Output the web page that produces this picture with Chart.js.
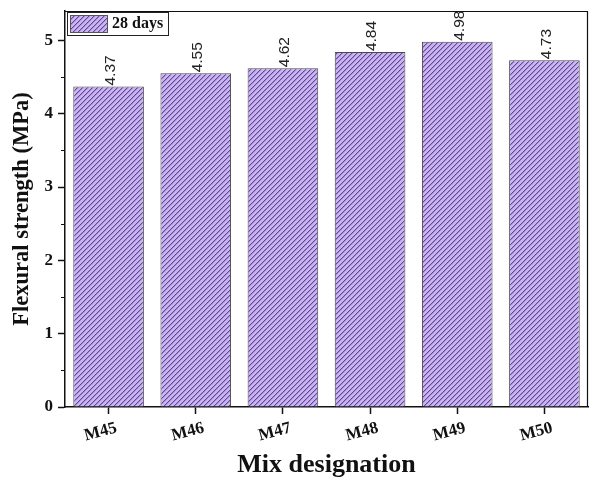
<!DOCTYPE html>
<html>
<head>
<meta charset="utf-8">
<script src="https://cdn.jsdelivr.net/npm/chart.js@4.4.0/dist/chart.umd.min.js"></script>
<style>
  html, body { margin: 0; padding: 0; background: #fff; }
  #wrap { width: 592px; height: 483px; }
</style>
</head>
<body>
<div id="wrap"><canvas id="flexChart" width="592" height="483"></canvas></div>
<script>
// Flexural strength at 28 days per mix
const categories = ['M45', 'M46', 'M47', 'M48', 'M49', 'M50'];
const strength28 = [4.37, 4.55, 4.62, 4.84, 4.98, 4.73];
const yTicks = [0, 1, 2, 3, 4, 5];
const seriesLabel = '28 days';

const SERIF = '"Liberation Serif", "Times New Roman", serif';

// lilac fill with "////" hatching
function hatchPattern() {
    const n = 5;
    const c = document.createElement('canvas');
    c.width = n; c.height = n;
    const g = c.getContext('2d');
    g.fillStyle = '#c9b3f2';
    g.fillRect(0, 0, n, n);
    for (let x = 0; x < n; x++) {
        for (let y = 0; y < n; y++) {
            const k = (x + y) % n;
            if (k === n - 1) { g.fillStyle = '#5f4a8a'; g.fillRect(x, y, 1, 1); }
            else if (k === 0) { g.fillStyle = '#a68bd8'; g.fillRect(x, y, 1, 1); }
        }
    }
    return g.createPattern(c, 'repeat');
}

const ctx = document.getElementById('flexChart').getContext('2d');
const hatch = hatchPattern();

// frame, minor ticks, value labels, x labels and legend
const extras = {
    id: 'extras',
    afterDatasetsDraw(chart) {
        const c = chart.ctx;

        // value labels, rotated
        const meta = chart.getDatasetMeta(0);
        c.save();
        c.fillStyle = '#222';
        c.font = '15.5px "Liberation Sans", Arial, sans-serif';
        meta.data.forEach((bar, i) => {
            c.save();
            c.translate(bar.x + 2, bar.y - 1);
            c.rotate(-Math.PI / 2);
            c.textAlign = 'left';
            c.textBaseline = 'middle';
            c.fillText(strength28[i].toFixed(2), 0, 0);
            c.restore();
        });
        c.restore();
    },
    afterDraw(chart) {
        const c = chart.ctx;
        const area = chart.chartArea;
        const y = chart.scales.y;
        const x = chart.scales.x;

        // top and right frame
        c.save();
        c.strokeStyle = '#111';
        c.lineWidth = 1.2;
        c.beginPath();
        c.moveTo(area.left, area.top + 0.5);
        c.lineTo(area.right - 0.5, area.top + 0.5);
        c.lineTo(area.right - 0.5, area.bottom);
        c.stroke();

        // minor ticks at half steps
        c.beginPath();
        for (let v = 0.5; v < y.max; v += 1) {
            const py = Math.round(y.getPixelForValue(v)) + 0.5;
            c.moveTo(area.left, py);
            c.lineTo(area.left - 4, py);
        }
        c.stroke();

        // slanted category labels
        c.fillStyle = '#111';
        c.font = 'bold 17px ' + SERIF;
        c.textAlign = 'center';
        c.textBaseline = 'middle';
        categories.forEach((lab, i) => {
            const px = x.getPixelForTick(i);
            c.save();
            c.translate(px - 8, area.bottom + 25);
            c.rotate(-15 * Math.PI / 180);
            c.fillText(lab, 0, 0);
            c.restore();
        });

        // legend box in the upper left corner
        const lx = area.left + 2, ly = area.top + 1;
        c.fillStyle = '#fff';
        c.fillRect(lx, ly, 101, 23);
        c.strokeStyle = '#222';
        c.lineWidth = 1;
        c.strokeRect(lx + 0.5, ly + 0.5, 101, 23);
        c.fillStyle = hatch;
        c.fillRect(lx + 3, ly + 3, 37, 17);
        c.strokeStyle = '#555';
        c.strokeRect(lx + 3.5, ly + 3.5, 37, 17);
        c.fillStyle = '#111';
        c.font = 'bold 16px ' + SERIF;
        c.textAlign = 'left';
        c.textBaseline = 'middle';
        c.fillText(seriesLabel, lx + 45, ly + 12);
        c.restore();
    }
};

new Chart(ctx, {
    type: 'bar',
    data: {
        labels: categories,
        datasets: [{
            label: seriesLabel,
            data: strength28,
            backgroundColor: hatch,
            borderColor: '#4a4a4a',
            borderWidth: 1,
            barPercentage: 0.81,
            categoryPercentage: 1.0
        }]
    },
    options: {
        responsive: false,
        animation: false,
        devicePixelRatio: 1,
        layout: { padding: { left: 0, right: 4, top: 11, bottom: 0 } },
        plugins: {
            legend: { display: false },
            tooltip: { enabled: false }
        },
        scales: {
            x: {
                offset: true,
                grid: {
                    display: true,
                    drawOnChartArea: false,
                    offset: false,
                    tickLength: 7,
                    tickWidth: 1.5,
                    tickColor: '#111'
                },
                border: { display: true, color: '#111', width: 1.5 },
                ticks: { display: false },
                title: {
                    display: true,
                    text: 'Mix designation',
                    color: '#111',
                    font: { family: SERIF, size: 26, weight: 'bold' },
                    padding: { top: 0, bottom: 2 }
                },
                afterFit(scale) { scale.height = 76; }
            },
            y: {
                min: 0,
                max: 5.4,
                afterBuildTicks(scale) {
                    scale.ticks = yTicks.map(v => ({ value: v }));
                },
                afterFit(scale) {
                    scale.width = 65;
                    // keep the top edge fixed regardless of label height
                    scale.paddingTop = 0;
                    scale.paddingBottom = 0;
                },
                grid: {
                    display: true,
                    drawOnChartArea: false,
                    tickLength: 7,
                    tickWidth: 1.5,
                    tickColor: '#111'
                },
                border: { display: true, color: '#111', width: 1.5 },
                ticks: {
                    color: '#111',
                    padding: 5,
                    font: { family: SERIF, size: 17, weight: 'bold' }
                },
                title: {
                    display: true,
                    text: 'Flexural strength (MPa)',
                    color: '#111',
                    font: { family: SERIF, size: 22.5, weight: 'bold' },
                    padding: { top: 9, bottom: 0 }
                }
            }
        }
    },
    plugins: [extras]
});
</script>
</body>
</html>
